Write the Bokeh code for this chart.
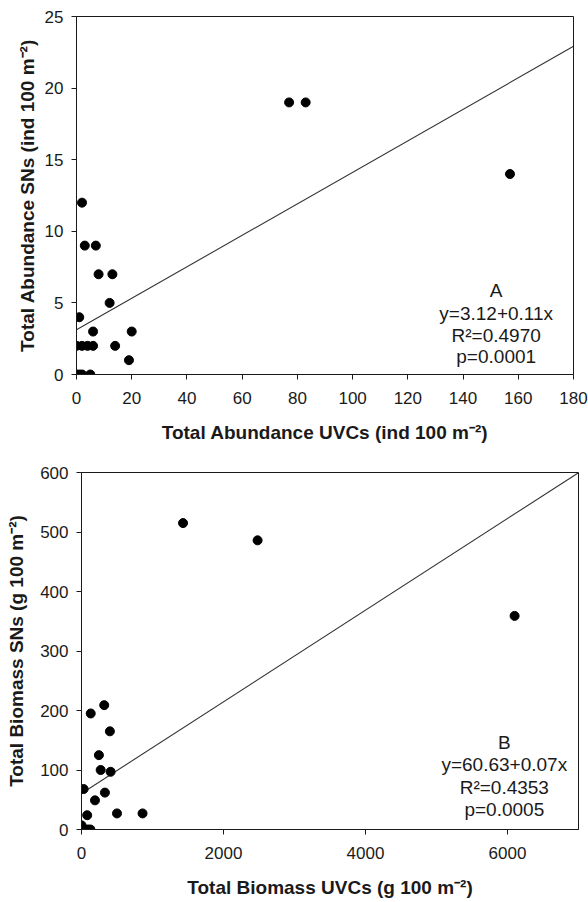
from bokeh.plotting import figure
from bokeh.models import Range1d, FixedTicker, Label
from bokeh.embed import file_html
from bokeh.resources import INLINE

# ---- Panel A: abundance ----
abund_uvc = [2, 3, 7, 8, 13, 12, 1, 6, 20, 14, 19, 0, 2, 4, 6, 0, 1, 2, 5, 77, 83, 157]
abund_sn = [12, 9, 9, 7, 7, 5, 4, 3, 3, 2, 1, 2, 2, 2, 2, 0, 0, 0, 0, 19, 19, 14]
fit_a = (3.12, 0.11)
text_a = ["A", "y=3.12+0.11x", "R²=0.4970", "p=0.0001"]
ticks_ax = [0, 20, 40, 60, 80, 100, 120, 140, 160, 180]
ticks_ay = [0, 5, 10, 15, 20, 25]

# ---- Panel B: biomass ----
bio_uvc = [1430, 2480, 6100, 130, 320, 400, 245, 270, 410, 30, 330, 190, 80, 500, 860, 0, 15, 50, 90, 125]
bio_sn = [515, 486, 359, 195, 209, 165, 125, 100, 97, 68, 62, 49, 24, 27, 27, 7, 2, 0, 0, 0]
fit_b = (60.63, 0.077)
text_b = ["B", "y=60.63+0.07x", "R²=0.4353", "p=0.0005"]
ticks_bx = [0, 2000, 4000, 6000]
ticks_by = [0, 100, 200, 300, 400, 500, 600]

FONT = "Liberation Sans"
INK = "#1a1a1a"


def make_fig(width, height, bl, br, bt, bb, xr, yr, xt, yt, xlabel, ylabel, ylab_standoff):
    p = figure(width=width, height=height, output_backend="svg", toolbar_location=None,
               x_range=Range1d(*xr), y_range=Range1d(*yr),
               min_border_left=bl, min_border_right=br, min_border_top=bt, min_border_bottom=bb)
    p.xgrid.visible = False
    p.ygrid.visible = False
    p.background_fill_color = "white"
    p.border_fill_color = "white"
    p.outline_line_color = INK
    p.outline_line_width = 1
    p.xaxis.ticker = FixedTicker(ticks=xt)
    p.yaxis.ticker = FixedTicker(ticks=yt)
    for ax in (p.xaxis[0], p.yaxis[0]):
        ax.axis_line_color = INK
        ax.major_tick_line_color = INK
        ax.major_tick_in = 0
        ax.major_tick_out = 5
        ax.minor_tick_line_color = None
        ax.major_label_text_font = FONT
        ax.major_label_text_font_size = "17px"
        ax.major_label_text_color = INK
        ax.axis_label_text_font = FONT
        ax.axis_label_text_font_size = "19px"
        ax.axis_label_text_font_style = "bold"
        ax.axis_label_text_color = INK
    p.xaxis.major_label_standoff = 12
    p.xaxis.axis_label_standoff = 15
    p.yaxis.major_label_standoff = 8
    p.yaxis.axis_label_standoff = ylab_standoff
    p.xaxis.axis_label = xlabel
    p.yaxis.axis_label = ylabel
    return p


def add_fit(p, xr, fit):
    a, b = fit
    xs = [xr[0], xr[1]]
    ys = [a + b * x for x in xs]
    p.line(xs, ys, line_color="#333333", line_width=1.1)


def add_text(p, x, ys, lines):
    for y, t in zip(ys, lines):
        p.add_layout(Label(x=x, y=y, text=t, text_font=FONT, text_font_size="19px",
                           text_color=INK, text_align="center", text_baseline="middle"))


xr_a, yr_a = (0, 180), (0, 25)
pa = make_fig(588, 446, 76, 15, 16, 72, xr_a, yr_a, ticks_ax, ticks_ay,
              "Total Abundance UVCs (ind 100 m⁻²)", "Total Abundance SNs (ind 100 m⁻²)", 4)
add_fit(pa, xr_a, fit_a)
pa.scatter(abund_uvc, abund_sn, size=9, color="black", marker="circle")
add_text(pa, 152, [5.87, 4.26, 2.72, 1.26], text_a)

xr_b, yr_b = (0, 7000), (0, 600)
pb = make_fig(588, 454, 81, 10, 26, 70, xr_b, yr_b, ticks_bx, ticks_by,
              "Total Biomass UVCs (g 100 m⁻²)", "Total Biomass SNs (g 100 m⁻²)", 10)
add_fit(pb, xr_b, fit_b)
pb.scatter(bio_uvc, bio_sn, size=9, color="black", marker="circle")
add_text(pb, 5955, [146.5, 109, 70.5, 33.6], text_b)

open("out.html", "w").write(file_html([pa, pb], INLINE))
